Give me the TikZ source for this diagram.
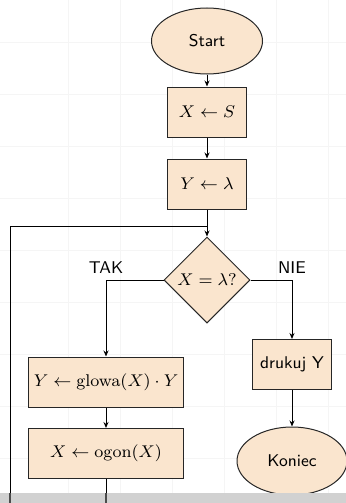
\documentclass[tikz,border=0pt]{standalone}
\usepackage{fix-cm}
\usepackage{amsmath}
\usetikzlibrary{shapes.geometric,arrows.meta}
\definecolor{boxfill}{RGB}{250,229,206}
\newcommand{\fsz}{\fontsize{8.5pt}{10pt}\selectfont}
\tikzset{
  base/.style={draw=black!85, fill=boxfill, line width=0.5pt, inner sep=0pt, font=\fsz},
  term/.style={base, ellipse, font=\fsz\sffamily},
  proc/.style={base, rectangle, minimum height=25pt},
  dec/.style={base, diamond, minimum width=43pt, minimum height=43pt, aspect=1},
  conn/.style={draw=black, line width=0.5pt, -{Stealth[length=3pt,width=2.5pt]}},
  plain/.style={draw=black, line width=0.5pt},
  lbl/.style={font=\fsz\sffamily, inner sep=1pt}
}
\begin{document}
\begin{tikzpicture}[x=0.5pt,y=-0.5pt]
\useasboundingbox (0,0) rectangle (346,503);
\fill[white] (0,0) rectangle (346,503);
\foreach \gx in {68,120,172,224,276,328} \draw[black!4, line width=0.4pt] (\gx,0) -- (\gx,493);
\foreach \gy in {42,94,146,198,250,302,354,406,458} \draw[black!4, line width=0.4pt] (0,\gy) -- (346,\gy);

\node[term, minimum width=55.5pt, minimum height=33pt] (start) at (207,41) {Start};
\node[proc, minimum width=39.5pt] (xs) at (207,112) {$X \leftarrow S$};
\node[proc, minimum width=39.5pt] (yl) at (207,184) {$Y \leftarrow \lambda$};
\coordinate (join) at (207,226);
\node[dec] (d) at (207,280) {$X = \lambda?$};
\coordinate (lt) at (106,280);
\coordinate (rt) at (292,280);
\node[proc, minimum width=77.5pt] (yg) at (106,382) {$Y \leftarrow \mathrm{glowa}(X) \cdot Y$};
\node[proc, minimum width=77.5pt] (xo) at (106,453.5) {$X \leftarrow \mathrm{ogon}(X)$};
\node[proc, minimum width=39.5pt, font=\fsz\sffamily] (dr) at (292,364.5) {drukuj Y};
\node[term, minimum width=55pt, minimum height=34pt] (kon) at (292,461) {Koniec};
\node[lbl, anchor=south] (tak) at (106,276) {TAK};
\node[lbl, anchor=south] (nie) at (292,276) {NIE};
\coordinate (loopb) at (10,503);
\coordinate (loopt) at (10,226);
\coordinate (xob) at (106,503);

\draw[conn] (start) -- (xs);
\draw[conn] (xs) -- (yl);
\draw[conn] (yl) -- (d.north);
\draw[plain] (loopb) -- (loopt) -- (join);
\draw[conn] (d.west) -- (lt) -- (yg.north -| lt);
\draw[conn] (d.east) -- (rt) -- (dr.north -| rt);
\draw[conn] (yg) -- (xo);
\draw[conn] (dr) -- (kon);
\draw[plain] (xo.south -| xob) -- (xob);

\fill[black!18] (0,493) rectangle (346,503);
\draw[black!70, line width=0.6pt] (10,493) -- (loopb);
\draw[black!70, line width=0.6pt] (106,493) -- (xob);
\end{tikzpicture}
\end{document}
